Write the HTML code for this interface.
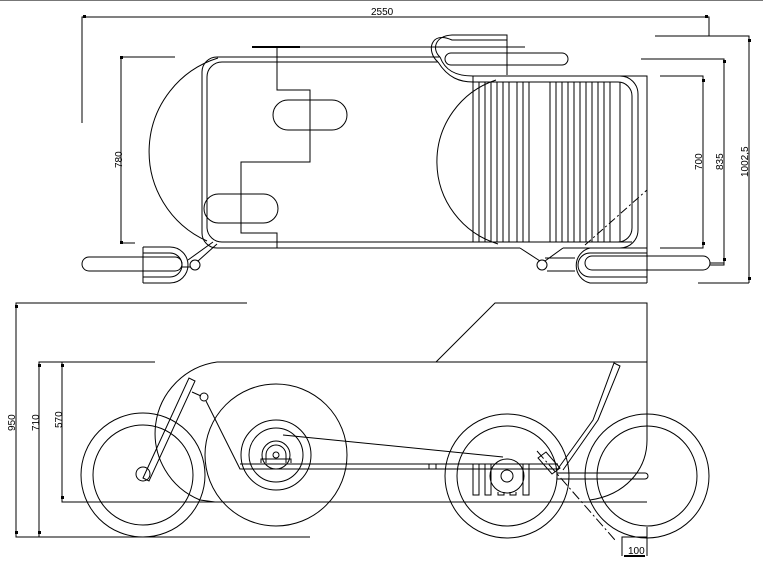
<!DOCTYPE html>
<html><head><meta charset="utf-8"><style>
html,body{margin:0;padding:0;background:#fff;}
svg{display:block}
text{font-family:"Liberation Sans",sans-serif;font-size:10px;fill:#000}
</style></head><body>
<svg width="763" height="564" viewBox="0 0 763 564" xmlns="http://www.w3.org/2000/svg">
<rect x="0" y="0" width="763" height="1" fill="#777"/>
<g fill="none" stroke="#000" stroke-width="1">
<path d="M82 123V17H709V36M655 36H749V283M698 283H749"/>
<path d="M175 57H121V243H135"/>
<path d="M660 76H703V248H660M641 59H724V265H710"/>
<path d="M218 58A98 98 0 0 0 207 241"/>
<path d="M217 57H440M217 57A15 15 0 0 0 202 72V233A15 15 0 0 0 217 248H520"/>
<path d="M222 62H438M222 62A15 15 0 0 0 207 77V228A15 15 0 0 0 222 242H632"/>
<path d="M440 57C432 50 434 36 452 35H507V75"/>
<path d="M438 62C426 52 430 30 452 40H507"/>
<path d="M447 47H525"/>
<rect x="445" y="53" width="123" height="12" rx="6"/>
<path d="M440 57C445 70 455 76 473 76H647V283"/>
<path d="M438 62C448 78 460 82 473 82H618A14 14 0 0 1 632 96V228A14 14 0 0 1 618 242"/>
<path d="M473 76V242M620 76A18 18 0 0 1 638 94V230A18 18 0 0 1 620 248H563"/>
<path d="M479 82V242M485 82V242M491 82V242M497 82V242M503 82V242M509 82V242M517 82V242M523 82V242M529 82V242M550 82V242M556 82V242M562 82V242M568 82V242M574 82V242M580 82V242M586 82V242M592 82V242M598 82V242M604 82V242M610 82V242M620 82V242"/>
<path d="M496 80A86 86 0 0 0 498 244"/>
<path d="M585 245L647 190" stroke-dasharray="8 3 2 3"/>
<path d="M252 47H300" stroke-width="2"/>
<path d="M300 47H525"/>
<path d="M277 47V90H310V162H241V233H277V248"/>
<rect x="273" y="100" width="74" height="30" rx="15"/>
<rect x="204" y="194" width="74" height="29" rx="14.5"/>
<rect x="82" y="257" width="100" height="14" rx="7"/>
<path d="M143 247V283M143 247H170A18 18 0 0 1 170 283H143M143 253H170A12 12 0 0 1 170 277H143"/>
<circle cx="195" cy="265" r="5"/>
<path d="M188 260L213 242M198 261L217 244M182 267H190"/>
<rect x="585" y="256" width="125" height="14" rx="7"/>
<path d="M647 248H590A18 18 0 0 0 590 283H647M647 253H590A12 12 0 0 0 590 277H647"/>
<circle cx="542" cy="265" r="5"/>
<path d="M520 248L540 261M563 248L545 261M547 271H575M545 258H575"/>
<path d="M710 263H724"/>
<path d="M247 303H16V537H310M155 362H39V537M62 362V502H647"/>
<path d="M217 362H647V303H495L436 362"/>
<path d="M647 362V440C647 470 625 495 590 500"/>
<path d="M217 362A72 72 0 0 0 200 500L215 502"/>
<circle cx="143" cy="475" r="62"/><circle cx="143" cy="475" r="50"/>
<circle cx="276" cy="455" r="71"/><circle cx="276" cy="455" r="35"/><circle cx="276" cy="455" r="27"/><circle cx="276" cy="455" r="14"/><circle cx="276" cy="455" r="3"/>
<path d="M266 463V455A10 10 0 0 1 286 455V463M261 463V459H291V463"/>
<circle cx="507" cy="476" r="62"/><circle cx="507" cy="476" r="50"/>
<circle cx="647" cy="476" r="62"/><circle cx="647" cy="476" r="50"/>
<circle cx="143" cy="474" r="7"/>
<path d="M143 478L189 378L195 381L149 481Z"/>
<circle cx="204" cy="397" r="4"/>
<path d="M192 392L201 396M206 401L240 469H440M240 464H558M440 469H558"/>
<path d="M283 435L503 457"/>
<path d="M429 464V469M436 464V469"/>
<circle cx="507" cy="476" r="17"/><circle cx="507" cy="476" r="6"/>
<path d="M473 464V495H479V464M485 464V495H491V464M523 464V495H529V464M498 492V495H504V492M510 492V495H516V492"/>
<path d="M557 470L593 420L614 363L620 366L598 420L563 470"/>
<path d="M538 458L546 452L560 468L552 474Z"/>
<path d="M557 473H645A3 3 0 0 1 645 479H557Z"/>
<path d="M537 451L615 540" stroke-dasharray="10 3 2 3"/>
<path d="M622 556V537H647M647 527V556"/>
</g>
<path d="M624 556H645" stroke="#000" stroke-width="2"/>
<g fill="#000">
<rect x="83" y="15" width="3" height="3"/><rect x="705" y="15" width="3" height="3"/>
<rect x="120" y="56" width="3" height="3"/><rect x="120" y="241" width="3" height="3"/>
<rect x="702" y="79" width="3" height="3"/><rect x="702" y="242" width="3" height="3"/>
<rect x="723" y="60" width="3" height="3"/><rect x="723" y="258" width="3" height="3"/>
<rect x="748" y="39" width="3" height="3"/><rect x="748" y="277" width="3" height="3"/>
<rect x="15" y="305" width="3" height="3"/><rect x="15" y="531" width="3" height="3"/>
<rect x="38" y="364" width="3" height="3"/><rect x="38" y="531" width="3" height="3"/>
<rect x="61" y="364" width="3" height="3"/><rect x="61" y="496" width="3" height="3"/>
<text x="371" y="15">2550</text>
<text transform="translate(122,168) rotate(-90)">780</text>
<text transform="translate(702,170) rotate(-90)">700</text>
<text transform="translate(723,170) rotate(-90)">835</text>
<text transform="translate(748,177) rotate(-90)">1002,5</text>
<text transform="translate(15,431) rotate(-90)">950</text>
<text transform="translate(39,431) rotate(-90)">710</text>
<text transform="translate(62,428) rotate(-90)">570</text>
<text x="628" y="554">100</text>
</g>
</svg>
</body></html>
